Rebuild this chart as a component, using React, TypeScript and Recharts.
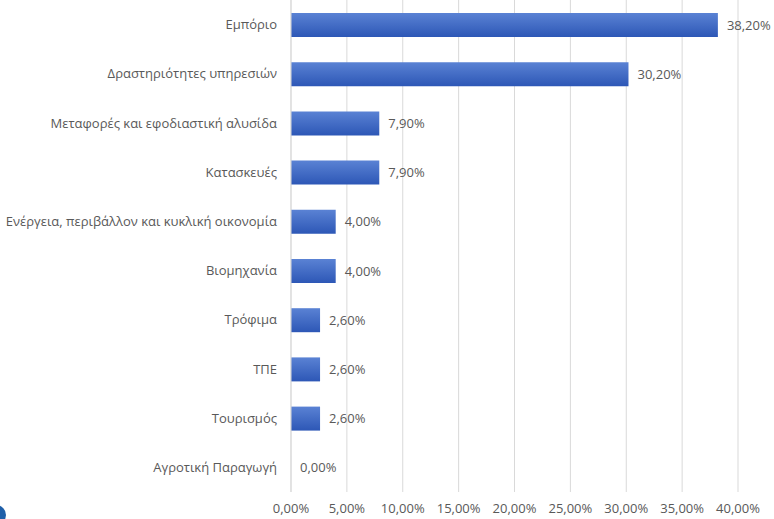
import { BarChart, Bar, XAxis, YAxis, CartesianGrid, LabelList } from "recharts";

const categories = [
  "Εμπόριο",
  "Δραστηριότητες υπηρεσιών",
  "Μεταφορές και εφοδιαστική αλυσίδα",
  "Κατασκευές",
  "Ενέργεια, περιβάλλον και κυκλική οικονομία",
  "Βιομηχανία",
  "Τρόφιμα",
  "ΤΠΕ",
  "Τουρισμός",
  "Αγροτική Παραγωγή",
];
const shares = [38.2, 30.2, 7.9, 7.9, 4.0, 4.0, 2.6, 2.6, 2.6, 0.0];
const xTicks = [0, 5, 10, 15, 20, 25, 30, 35, 40];

const data = categories.map((name, i) => ({ name, value: shares[i] }));

const pct = (v: number) => v.toFixed(2).replace(".", ",") + "%";
const FONT = "'Open Sans', 'DejaVu Sans', sans-serif";

// custom label so the zero-length bar still gets its value
const ValueLabel = (props: any) => {
  const { x, y, width, height, value } = props;
  if (x == null || y == null) return null;
  return (
    <text
      x={Number(x) + Number(width || 0) + 9}
      y={Number(y) + Number(height || 0) / 2}
      dy="0.35em"
      fontSize={13}
      fill="#595959"
      fontFamily={FONT}
    >
      {pct(Number(value ?? 0))}
    </text>
  );
};

export default function App() {
  return (
    <div style={{ position: "absolute", left: 0, top: 0, width: 774, height: 519, background: "#fff" }}>
      <BarChart
        layout="vertical"
        data={data}
        width={774}
        height={519}
        margin={{ top: 0, right: 36, bottom: 0, left: 0 }}
        barSize={24}
      >
        <defs>
          <linearGradient id="barFill" x1="0" y1="0" x2="0" y2="1">
            <stop offset="0%" stopColor="#5a82d4" />
            <stop offset="100%" stopColor="#2d57b6" />
          </linearGradient>
        </defs>
        <CartesianGrid horizontal={false} stroke="#d9d9d9" />
        <XAxis
          type="number"
          domain={[0, 40]}
          ticks={xTicks}
          tickFormatter={pct}
          axisLine={false}
          tickLine={false}
          tickMargin={6}
          height={27}
          interval={0}
          tick={{ fontSize: 13, fill: "#595959", fontFamily: FONT }}
        />
        <YAxis
          type="category"
          dataKey="name"
          width={291}
          axisLine={{ stroke: "#d9d9d9" }}
          tickLine={false}
          tickMargin={8}
          interval={0}
          tick={{ fontSize: 13, fill: "#595959", fontFamily: FONT }}
        />
        <Bar dataKey="value" fill="url(#barFill)" minPointSize={0.01} isAnimationActive={false}>
          <LabelList dataKey="value" content={ValueLabel} />
        </Bar>
      </BarChart>
      <div
        style={{
          position: "absolute",
          left: -14,
          top: 505,
          width: 20,
          height: 20,
          borderRadius: "50%",
          background: "#1f5fa8",
        }}
      />
    </div>
  );
}
